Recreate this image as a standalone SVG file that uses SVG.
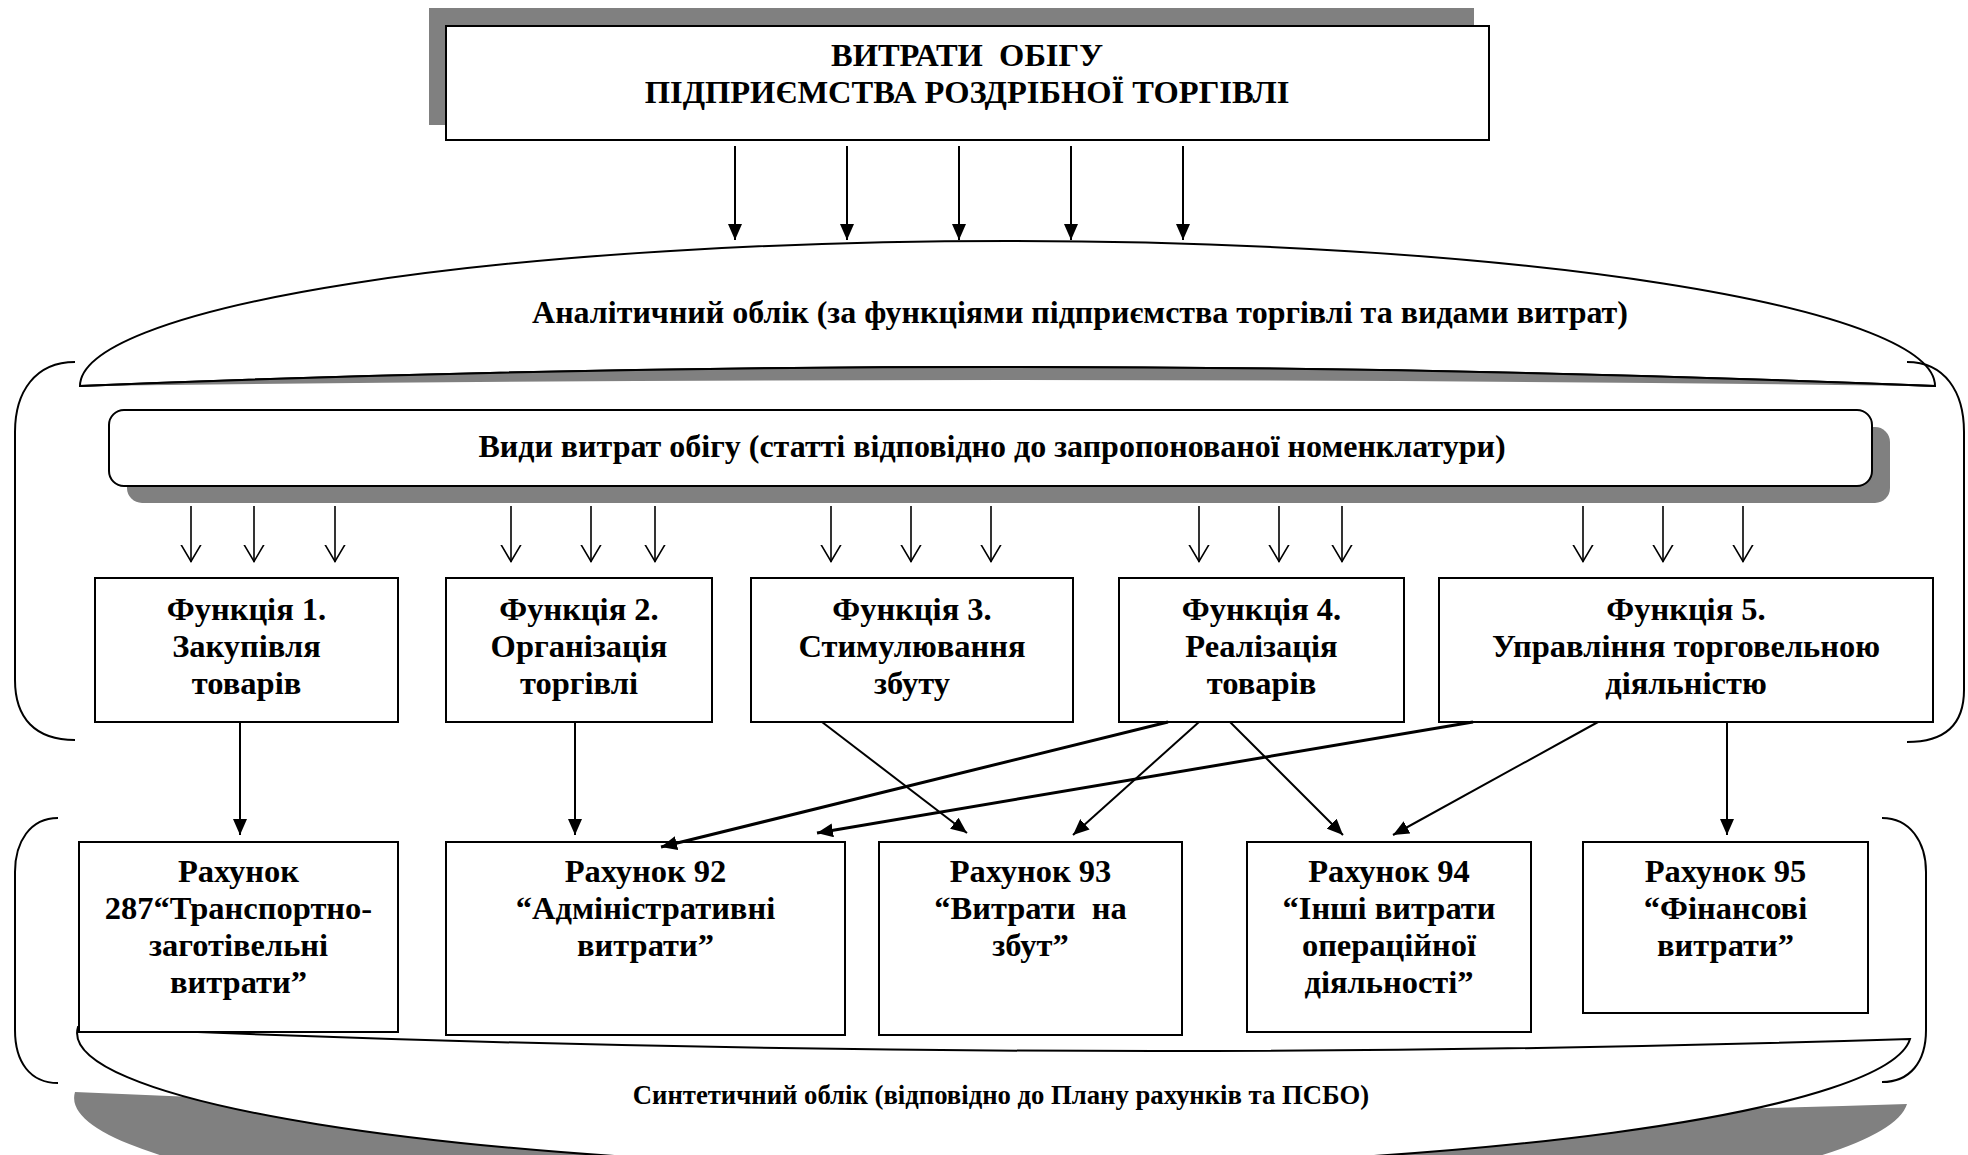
<svg xmlns="http://www.w3.org/2000/svg" width="1968" height="1155" viewBox="0 0 1968 1155">
<style>
text{font-family:"Liberation Serif","Times New Roman",serif;font-weight:bold;fill:#000;text-anchor:middle;white-space:pre}
.box{fill:#fff;stroke:#000;stroke-width:2}
.sh{fill:#808080;stroke:none}
.ln{fill:none;stroke:#000;stroke-width:2}
.thin{fill:none;stroke:#000;stroke-width:1.6}
.t31{font-size:32.5px}
</style>
<defs>
<marker id="af" markerWidth="16" markerHeight="14" refX="16" refY="7" orient="auto" markerUnits="userSpaceOnUse"><path d="M0,0 L16,7 L0,14 Z" fill="#000"/></marker>
<marker id="av" markerWidth="19" markerHeight="22" refX="17.5" refY="11" orient="auto" markerUnits="userSpaceOnUse"><path d="M0,1 L17,11 L0,21" fill="none" stroke="#000" stroke-width="1.6"/></marker>
</defs>

<g id="analytic">
<path d="M80,386 A927,145 0 0 1 1935,386 Q1000,348 80,386 Z" fill="#fff" stroke="#000" stroke-width="2"/>
<path class="sh" d="M80,386 Q1000,348 1935,386 Q1000,374 80,386 Z"/>
<path d="M80,386 Q1000,348 1935,386" class="ln"/>
<text x="1080" y="323" font-size="32">Аналітичний облік (за функціями підприємства торгівлі та видами витрат)</text>
</g>

<g id="synthetic">
<path class="sh" transform="translate(-3,65)" d="M78,1027 Q1000,1068 1910,1039 A916,135 0 0 1 78,1027 Z"/>
<path d="M78,1027 Q1000,1068 1910,1039 A916,135 0 0 1 78,1027 Z" fill="#fff" stroke="#000" stroke-width="2"/>
<text x="1001" y="1104" font-size="26.7">Синтетичний облік (відповідно до Плану рахунків та ПСБО)</text>
</g>

<g id="braces">
<path class="ln" d="M75,362 C35,362 15,392 15,432 L15,680 C15,718 35,740 75,740"/>
<path class="ln" d="M1907,362 C1945,362 1964,392 1964,432 L1964,690 C1964,725 1945,742 1907,742"/>
<path class="ln" d="M58,818 C30,818 15,842 15,872 L15,1030 C15,1062 30,1083 58,1083"/>
<path class="ln" d="M1882,818 C1910,818 1926,842 1926,872 L1926,1030 C1926,1062 1910,1082 1882,1082"/>
</g>

<g id="title">
<rect class="sh" x="429" y="8" width="1045" height="117"/>
<rect class="box" x="446" y="26" width="1043" height="114" stroke-width="2.5"/>
<text x="967" y="66" font-size="32.5">ВИТРАТИ  ОБІГУ</text>
<text x="967" y="103" font-size="32.5">ПІДПРИЄМСТВА РОЗДРІБНОЇ ТОРГІВЛІ</text>
</g>

<g id="types">
<rect class="sh" x="127" y="427" width="1763" height="76" rx="15"/>
<rect class="box" x="109" y="410" width="1763" height="76" rx="15"/>
<text x="992" y="457" font-size="32">Види витрат обігу (статті відповідно до запропонованої номенклатури)</text>
</g>

<g id="f1"><rect class="box" x="95" y="578" width="303" height="144"/>
<text class="t31" x="246.5" y="620">Функція 1.</text><text class="t31" x="246.5" y="657">Закупівля</text><text class="t31" x="246.5" y="694">товарів</text></g>
<g id="f2"><rect class="box" x="446" y="578" width="266" height="144"/>
<text class="t31" x="579" y="620">Функція 2.</text><text class="t31" x="579" y="657">Організація</text><text class="t31" x="579" y="694">торгівлі</text></g>
<g id="f3"><rect class="box" x="751" y="578" width="322" height="144"/>
<text class="t31" x="912" y="620">Функція 3.</text><text class="t31" x="912" y="657">Стимулювання</text><text class="t31" x="912" y="694">збуту</text></g>
<g id="f4"><rect class="box" x="1119" y="578" width="285" height="144"/>
<text class="t31" x="1261.5" y="620">Функція 4.</text><text class="t31" x="1261.5" y="657">Реалізація</text><text class="t31" x="1261.5" y="694">товарів</text></g>
<g id="f5"><rect class="box" x="1439" y="578" width="494" height="144"/>
<text class="t31" x="1686" y="620">Функція 5.</text><text class="t31" x="1686" y="657">Управління торговельною</text><text class="t31" x="1686" y="694">діяльністю</text></g>

<g id="r287"><rect class="box" x="79" y="842" width="319" height="190"/>
<text class="t31" x="238.5" y="882">Рахунок</text><text class="t31" x="238.5" y="919">287“Транспортно-</text><text class="t31" x="238.5" y="956">заготівельні</text><text class="t31" x="238.5" y="993">витрати”</text></g>
<g id="r92"><rect class="box" x="446" y="842" width="399" height="193"/>
<text class="t31" x="645.5" y="882">Рахунок 92</text><text class="t31" x="645.5" y="919">“Адміністративні</text><text class="t31" x="645.5" y="956">витрати”</text></g>
<g id="r93"><rect class="box" x="879" y="842" width="303" height="193"/>
<text class="t31" x="1030.5" y="882">Рахунок 93</text><text class="t31" x="1030.5" y="919">“Витрати  на</text><text class="t31" x="1030.5" y="956">збут”</text></g>
<g id="r94"><rect class="box" x="1247" y="842" width="284" height="190"/>
<text class="t31" x="1389" y="882">Рахунок 94</text><text class="t31" x="1389" y="919">“Інші витрати</text><text class="t31" x="1389" y="956">операційної</text><text class="t31" x="1389" y="993">діяльності”</text></g>
<g id="r95"><rect class="box" x="1583" y="842" width="285" height="171"/>
<text class="t31" x="1725.5" y="882">Рахунок 95</text><text class="t31" x="1725.5" y="919">“Фінансові</text><text class="t31" x="1725.5" y="956">витрати”</text></g>

<g id="connectors">
<g class="ln" marker-end="url(#af)">
<line x1="735" y1="146" x2="735" y2="240"/>
<line x1="847" y1="146" x2="847" y2="240"/>
<line x1="959" y1="146" x2="959" y2="240"/>
<line x1="1071" y1="146" x2="1071" y2="240"/>
<line x1="1183" y1="146" x2="1183" y2="240"/>
</g>
<g class="thin" marker-end="url(#av)">
<line x1="191" y1="506" x2="191" y2="562"/>
<line x1="254" y1="506" x2="254" y2="562"/>
<line x1="335" y1="506" x2="335" y2="562"/>
<line x1="511" y1="506" x2="511" y2="562"/>
<line x1="591" y1="506" x2="591" y2="562"/>
<line x1="655" y1="506" x2="655" y2="562"/>
<line x1="831" y1="506" x2="831" y2="562"/>
<line x1="911" y1="506" x2="911" y2="562"/>
<line x1="991" y1="506" x2="991" y2="562"/>
<line x1="1199" y1="506" x2="1199" y2="562"/>
<line x1="1279" y1="506" x2="1279" y2="562"/>
<line x1="1342" y1="506" x2="1342" y2="562"/>
<line x1="1583" y1="506" x2="1583" y2="562"/>
<line x1="1663" y1="506" x2="1663" y2="562"/>
<line x1="1743" y1="506" x2="1743" y2="562"/>
</g>
<g class="ln" marker-end="url(#af)">
<line x1="240" y1="722" x2="240" y2="835"/>
<line x1="575" y1="722" x2="575" y2="835"/>
<line x1="822" y1="722" x2="967" y2="833"/>
<line x1="1168" y1="722" x2="661" y2="847" stroke-width="3"/>
<line x1="1199" y1="722" x2="1073" y2="835"/>
<line x1="1230" y1="722" x2="1343" y2="835"/>
<line x1="1473" y1="722" x2="817" y2="833" stroke-width="3"/>
<line x1="1598" y1="722" x2="1393" y2="835"/>
<line x1="1727" y1="722" x2="1727" y2="835"/>
</g>
</g>
</svg>
